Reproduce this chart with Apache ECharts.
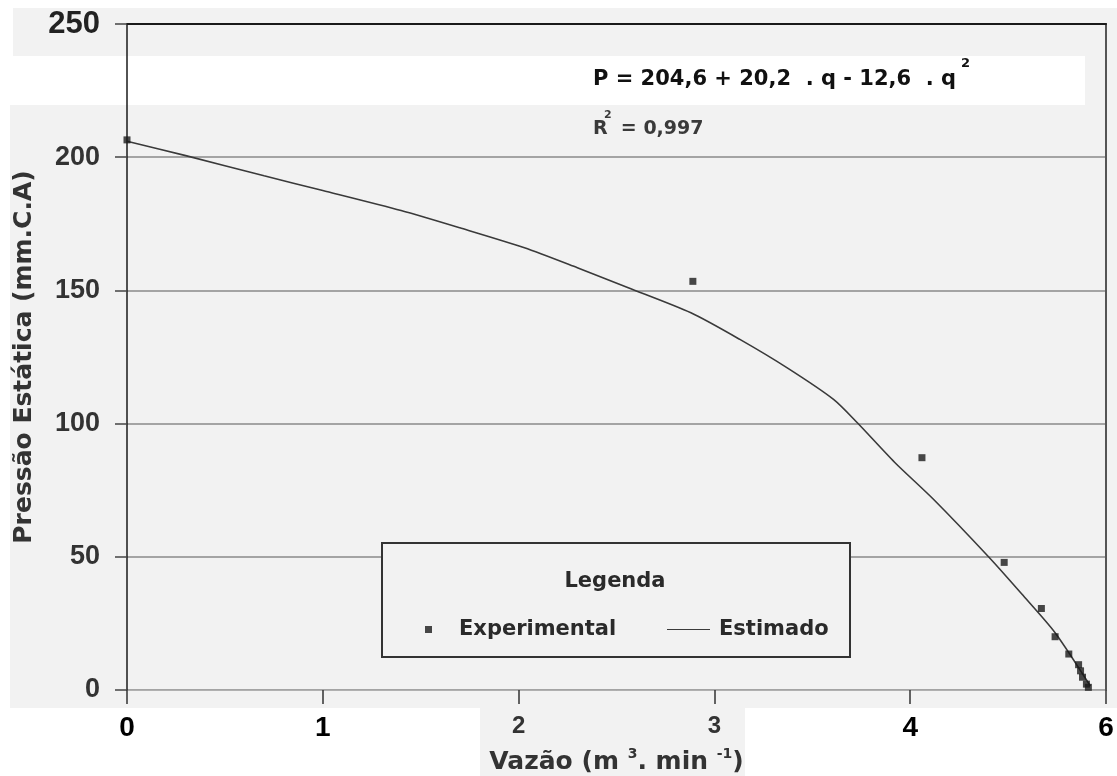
<!DOCTYPE html>
<html><head><meta charset="utf-8">
<script src="https://cdn.jsdelivr.net/npm/echarts@6/dist/echarts.min.js"></script>
<style>html,body{margin:0;padding:0;background:#fff}#c{width:1117px;height:776px}</style>
</head><body><div id="c"></div>
<script>
// ---- data ----
const xTickLabels = ['0', '1', '2', '3', '4', '6'];
const yTickLabels = ['0', '50', '100', '150', '200', '250'];

const expX = [0, 2.89, 4.06, 4.48, 4.67, 4.74, 4.81, 4.86, 4.87, 4.88, 4.90, 4.91];
const expY = [206.5, 153.4, 87.2, 47.9, 30.6, 20.0, 13.5, 9.5, 7.2, 4.8, 2.2, 1.0];

const estX = [0, 0.3, 0.7, 1.0, 1.4, 1.7, 2.03, 2.3, 2.56, 2.88, 3.13, 3.37, 3.61, 3.73, 3.92, 4.12, 4.4, 4.57, 4.74, 4.92];
const estY = [206, 200.6, 193, 187.5, 180, 173.5, 166, 158.5, 151, 141.6, 131.6, 121, 109, 100.3, 85.5, 71.5, 50, 36, 21.5, 1.5];

const seriesNames = ['Experimental', 'Estimado'];
const legendTitle = 'Legenda';
const equationText = 'P = 204,6 + 20,2  . q - 12,6  . q';
const equationSup = '2';
const r2Text = 'R  = 0,997';
const r2Sup = '2';
const xTitleParts = ['Vazão (m ', '3', '. min ', '-1', ')'];
const yTitle = 'Pressão Estática (mm.C.A)';

// ---- chart ----
const GRAY = '#f2f2f2';
const DV = 'DejaVu Sans';
const LS = 'Liberation Sans';

const chart = echarts.init(document.getElementById('c'), null, {renderer: 'canvas'});
const option = {
  backgroundColor: '#ffffff',
  animation: false,
  grid: {left: 127, right: 11, top: 24, bottom: 86, containLabel: false, outerBoundsMode: 'none'},
  xAxis: [
    {
      type: 'value', min: 0, max: 5, interval: 1, position: 'bottom',
      axisLine: {show: true, onZero: false, lineStyle: {color: '#b0b0b0', width: 1}},
      axisTick: {show: true, length: 14, lineStyle: {color: '#333', width: 1.5}},
      splitLine: {show: false},
      axisLabel: {
        margin: 24,
        formatter: function (v) {
          const i = Math.round(v);
          const s = (i === 2 || i === 3) ? 'g' : 'k';
          return '{' + s + '|' + xTickLabels[i] + '}';
        },
        rich: {
          k: {fontFamily: LS, fontWeight: 'bold', fontSize: 28, color: '#000'},
          g: {fontFamily: LS, fontWeight: 'bold', fontSize: 24, color: '#333'}
        }
      },
      name: '{b|' + xTitleParts[0] + '}{s|' + xTitleParts[1] + '}{b|' + xTitleParts[2] + '}{s|' + xTitleParts[3] + '}{b|' + xTitleParts[4] + '}',
      nameLocation: 'middle', nameGap: 57,
      nameTextStyle: {
        rich: {
          b: {fontFamily: DV, fontWeight: 'bold', fontSize: 25, color: '#333', lineHeight: 30},
          s: {fontFamily: DV, fontWeight: 'bold', fontSize: 14, color: '#333', verticalAlign: 'top', lineHeight: 12}
        }
      }
    },
    {
      type: 'value', min: 0, max: 5, position: 'top',
      axisLine: {show: true, onZero: false, lineStyle: {color: '#1a1a1a', width: 2}},
      axisTick: {show: false}, axisLabel: {show: false}, splitLine: {show: false}
    }
  ],
  yAxis: [
    {
      type: 'value', min: 0, max: 250, interval: 50,
      axisLine: {show: true, onZero: false, lineStyle: {color: '#1a1a1a', width: 1.5}},
      axisTick: {show: true, length: 12, lineStyle: {color: '#444', width: 1.5}},
      splitLine: {show: true, lineStyle: {color: '#8a8a8a', width: 1.5}},
      axisLabel: {
        margin: 27,
        formatter: function (v) {
          const i = Math.round(v / 50);
          return (i === 5 ? '{big|' : '{n|') + yTickLabels[i] + '}';
        },
        rich: {
          n: {fontFamily: LS, fontWeight: 'bold', fontSize: 27, color: '#333'},
          big: {fontFamily: LS, fontWeight: 'bold', fontSize: 31, color: '#222'}
        }
      },
      name: yTitle, nameLocation: 'middle', nameGap: 80,
      nameTextStyle: {fontFamily: DV, fontWeight: 'bold', fontSize: 25, color: '#333'}
    },
    {
      type: 'value', min: 0, max: 250, position: 'right',
      axisLine: {show: true, onZero: false, lineStyle: {color: '#555', width: 2}},
      axisTick: {show: false}, axisLabel: {show: false}, splitLine: {show: false}
    }
  ],
  legend: [
    {
      data: [seriesNames[0]], left: 420, top: 614, icon: 'rect', itemWidth: 7, itemHeight: 7,
      selectedMode: false, z: 6,
      textStyle: {fontFamily: DV, fontWeight: 'bold', fontSize: 21, color: '#2a2a2a', padding: [0, 0, 0, 22]}
    },
    {
      data: [seriesNames[1]], left: 662, top: 614, icon: 'path://M0,0H100V2H0Z', itemWidth: 43, itemHeight: 2,
      selectedMode: false, z: 6,
      itemStyle: {color: '#3a3a3a'},
      textStyle: {fontFamily: DV, fontWeight: 'bold', fontSize: 21, color: '#2a2a2a', padding: [0, 0, 0, 4]}
    }
  ],
  series: [
    {
      name: seriesNames[0], type: 'scatter', xAxisIndex: 0, yAxisIndex: 0,
      data: expX.map((x, i) => [x, expY[i]]),
      symbol: 'rect', symbolSize: 7, itemStyle: {color: '#1a1a1a'}, clip: false, z: 3
    },
    {
      name: seriesNames[1], type: 'line', xAxisIndex: 0, yAxisIndex: 0,
      data: estX.map((x, i) => [x, estY[i]]),
      symbol: 'none', showSymbol: false, smooth: 0.25,
      lineStyle: {color: '#3a3a3a', width: 1.6}, itemStyle: {color: '#3a3a3a'}, z: 2
    }
  ],
  graphic: [
    {type: 'rect', silent: true, z: -10, shape: {x: 13, y: 8, width: 1104, height: 48}, style: {fill: GRAY}},
    {type: 'rect', silent: true, z: -10, shape: {x: 1085, y: 56, width: 32, height: 50}, style: {fill: GRAY}},
    {type: 'rect', silent: true, z: -10, shape: {x: 10, y: 105, width: 1107, height: 603}, style: {fill: GRAY}},
    {type: 'rect', silent: true, z: -10, shape: {x: 480, y: 708, width: 265, height: 68}, style: {fill: GRAY}},
    {type: 'rect', silent: true, z: 3, shape: {x: 382, y: 543, width: 468, height: 114},
      style: {fill: GRAY, stroke: '#333', lineWidth: 2}},
    {type: 'text', silent: true, z: 5, x: 615, y: 582,
      style: {text: legendTitle, fontFamily: DV, fontWeight: 'bold', fontSize: 21, fill: '#2a2a2a', align: 'center', verticalAlign: 'middle'}},
    {type: 'text', silent: true, z: 5, x: 593, y: 80,
      style: {text: equationText, fontFamily: DV, fontWeight: 'bold', fontSize: 21, fill: '#111', align: 'left', verticalAlign: 'middle'}},
    {type: 'text', silent: true, z: 5, x: 961, y: 64,
      style: {text: equationSup, fontFamily: DV, fontWeight: 'bold', fontSize: 13, fill: '#111', align: 'left', verticalAlign: 'middle'}},
    {type: 'text', silent: true, z: 5, x: 593, y: 129,
      style: {text: r2Text, fontFamily: DV, fontWeight: 'bold', fontSize: 19, fill: '#3a3a3a', align: 'left', verticalAlign: 'middle'}},
    {type: 'text', silent: true, z: 5, x: 604, y: 115,
      style: {text: r2Sup, fontFamily: DV, fontWeight: 'bold', fontSize: 11, fill: '#3a3a3a', align: 'left', verticalAlign: 'middle'}}
  ]
};
chart.setOption(option);
</script>
</body></html>
